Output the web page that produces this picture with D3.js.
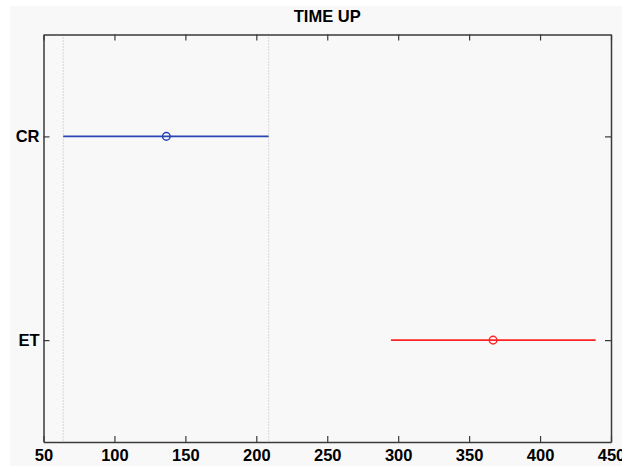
<!DOCTYPE html>
<html><head><meta charset="utf-8">
<script src="https://cdn.jsdelivr.net/npm/d3@7"></script>
<style>
html,body{margin:0;padding:0;background:#fff;}
svg{display:block;}
text{font-family:"Liberation Sans",Arial,sans-serif;font-weight:bold;fill:#000;}
</style></head>
<body>
<svg id="c" width="622" height="466"></svg>
<script>
const title = "TIME UP";
const groups = ["CR", "ET"];
const means = [136.6, 366.9];
const lower = [63.9, 294.9];
const upper = [208.7, 439.2];
const colors = ["#2a44b4", "#ff2424"];
const xTicks = [50, 100, 150, 200, 250, 300, 350, 400, 450];

const svg = d3.select("#c");
const W = 622, H = 466;
const m = {l: 43.5, r: 611, t: 34.5, b: 442};

svg.append("rect").attr("x", 10).attr("y", 6).attr("width", W - 10).attr("height", H - 6).attr("fill", "#f8f8f8");

const x = d3.scaleLinear().domain([50, 450]).range([m.l, m.r]);
const y = d3.scaleLinear().domain([0.5, groups.length + 0.5]).range([m.t, m.b]);

// dotted reference lines at the first group's interval
[lower[0], upper[0]].forEach(v => {
  svg.append("line").attr("x1", x(v)).attr("x2", x(v)).attr("y1", m.t).attr("y2", m.b)
    .attr("stroke", "#b8b8b8").attr("stroke-width", 1).attr("stroke-dasharray", "1,2");
});

// axes
const axisColor = "#3a3a3a";
const gBottom = svg.append("g").attr("transform", `translate(0,${m.b})`)
  .call(d3.axisBottom(x).tickValues(xTicks).tickSizeInner(-6).tickSizeOuter(0).tickPadding(0));
const gTop = svg.append("g").attr("transform", `translate(0,${m.t})`)
  .call(d3.axisTop(x).tickValues(xTicks).tickSizeInner(-6).tickSizeOuter(0).tickFormat(""));
const gLeft = svg.append("g").attr("transform", `translate(${m.l},0)`)
  .call(d3.axisLeft(y).tickValues(groups.map((g, i) => i + 1)).tickFormat((d) => groups[d - 1]).tickSizeInner(-6).tickSizeOuter(0).tickPadding(4));
const gRight = svg.append("g").attr("transform", `translate(${m.r},0)`)
  .call(d3.axisRight(y).tickValues(groups.map((g, i) => i + 1)).tickSizeInner(-6).tickSizeOuter(0).tickFormat(""));

[gBottom, gTop, gLeft, gRight].forEach(a => {
  a.select(".domain").attr("stroke", axisColor).attr("stroke-width", 1.5);
  a.selectAll(".tick line").attr("stroke", axisColor).attr("stroke-width", 1.2);
});
gBottom.selectAll(".tick text").attr("font-size", 16.5).attr("font-family", "Liberation Sans, Arial, sans-serif")
  .attr("font-weight", "bold").attr("fill", "#000").attr("dy", null).attr("y", 19);
gLeft.selectAll(".tick text").attr("font-size", 16.5).attr("font-family", "Liberation Sans, Arial, sans-serif")
  .attr("font-weight", "bold").attr("fill", "#000");

// title
svg.append("text").attr("x", (m.l + m.r) / 2).attr("y", 22).attr("text-anchor", "middle")
  .attr("font-size", 16.5).text(title);

// intervals
groups.forEach((g, i) => {
  const yy = y(i + 1);
  svg.append("line").attr("x1", x(lower[i])).attr("x2", x(upper[i])).attr("y1", yy).attr("y2", yy)
    .attr("stroke", colors[i]).attr("stroke-width", 1.6);
  svg.append("circle").attr("cx", x(means[i])).attr("cy", yy).attr("r", 3.8)
    .attr("fill", "none").attr("stroke", colors[i]).attr("stroke-width", 1.5);
});
</script>
</body></html>
